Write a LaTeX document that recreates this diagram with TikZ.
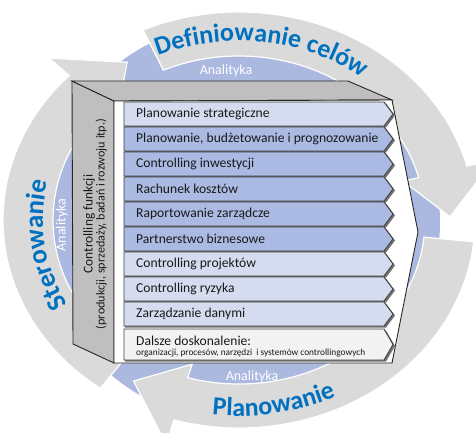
\documentclass[tikz,border=0pt]{standalone}
\usepackage{fontspec}
\setmainfont{Carlito}
\usetikzlibrary{calc,decorations.text}
\definecolor{ringgray}{RGB}{218,218,218}
\definecolor{bluedisk}{RGB}{171,185,225}
\definecolor{rowdark}{RGB}{171,186,227}
\definecolor{rowlight}{RGB}{214,220,240}
\definecolor{rowgray}{RGB}{242,242,242}
\definecolor{boxgray}{RGB}{191,191,191}
\definecolor{titleblue}{RGB}{0,112,192}
\newcommand\bigtitle{\fontsize{26}{26}\selectfont\bfseries\color{titleblue}}
\newcommand\sidetitle{\fontsize{27}{27}\selectfont\bfseries\color{titleblue}}
\newcommand\ringarrow[3]{%
  \filldraw[arrowband] ($(C)+(#1:236pt and 208pt)$)
    arc[start angle=#1, end angle=#2, x radius=236pt, y radius=208pt]
    -- ($(C)+(#2:264pt and 233pt)$)
    -- ($(C)+(#3:211pt and 186pt)$)
    -- ($(C)+(#2:170pt and 150pt)$)
    -- ($(C)+(#2:186pt and 164pt)$)
    arc[start angle=#2, end angle=#1, x radius=186pt, y radius=164pt]
    -- cycle;}
\begin{document}
\begin{tikzpicture}[x=1pt,y=1pt,
  rowbox/.style={draw=black!75, line width=0.9pt, line join=miter},
  rowshadow/.style={fill=black!55},
  rowtext/.style={font=\fontsize{13.6}{15}\selectfont, inner sep=0pt, anchor=west, text=black!90},
  anal/.style={font=\fontsize{14}{16}\selectfont, text=white, inner sep=0pt},
  arrowband/.style={fill=ringgray, draw=white, line width=1.2pt},
  facestyle/.style={fill=boxgray, draw=black!85, line width=0.9pt, line join=miter}
]
\clip (0,0) rectangle (476,-432);
\coordinate (C) at (239,-220);
% blue disk
\fill[bluedisk] (240,-222) circle[radius=200];
% ring arrows
\ringarrow{114}{15}{1}
\ringarrow{-6}{-106}{-120}
\ringarrow{234}{136}{122}
% curved titles
\path[decorate,decoration={text along path,text align=center,
  text={|\bigtitle|Definiowanie celów}}]
  ($(C)+(152.5:203pt and 179pt)$) arc[start angle=152.5,end angle=12.5,x radius=203pt,y radius=179pt];
\path[decorate,decoration={text along path,text align=center,
  text={|\sidetitle|Sterowanie}}]
  ($(C)+(232.7:196pt and 173pt)$) arc[start angle=232.7,end angle=142.7,x radius=196pt,y radius=173pt];
\path[decorate,decoration={text along path,text align=center,
  text={|\bigtitle|Planowanie}}]
  ($(C)+(-126:222pt and 196pt)$) arc[start angle=-126,end angle=-34,x radius=222pt,y radius=196pt];
% Analityka labels
\node[anal] (antop) at (226,-71) {Analityka};
\node[anal, rotate=90] (anleft) at (62,-225) {Analityka};
\node[anal] (anbot) at (252,-377) {Analityka};
% box: left face, top face, front face
\filldraw[facestyle] (72,-81) -- (114,-101) -- (114,-363) -- (73,-344) -- cycle;
\filldraw[facestyle] (72,-81) -- (348,-81) -- (392,-100) -- (114,-101) -- cycle;
\filldraw[fill=white, draw=black!85, line width=0.9pt, line join=miter]
  (114,-101) -- (392,-100) -- (418,-232) -- (392,-363) -- (114,-363) -- cycle;
% left face text
\node[rotate=90, align=center, inner sep=0pt, text=black!90] (lefttext) at (95,-224)
  {\fontsize{13.4}{16}\selectfont Controlling funkcji\\
   \fontsize{12.2}{16}\selectfont (produkcji, sprzedaży, badań i rozwoju itp.)};
% rows
\foreach \i/\c/\t in {0/rowlight/{Planowanie strategiczne},
  1/rowdark/{Planowanie, budżetowanie i prognozowanie},
  2/rowdark/{Controlling inwestycji},
  3/rowdark/{Rachunek kosztów},
  4/rowdark/{Raportowanie zarządcze},
  5/rowdark/{Partnerstwo biznesowe},
  6/rowlight/{Controlling projektów},
  7/rowlight/{Controlling ryzyka},
  8/rowlight/{Zarządzanie danymi}}{
  \pgfmathsetmacro\yt{-(102+25*\i)}
  \pgfmathsetmacro\yb{\yt-24}
  \pgfmathsetmacro\ym{\yt-12}
  \fill[rowshadow] (125,\yt-1.5) -- (386,\yt-1.5) -- (395,\ym-1.5) -- (386,\yb-1.5) -- (125,\yb-1.5) -- cycle;
  \filldraw[rowbox, fill=\c] (124,\yt) -- (384,\yt) -- (393,\ym) -- (384,\yb) -- (124,\yb) -- cycle;
  \node[rowtext] (row\i) at (136,\ym) {\t};
}
% last row
\fill[rowshadow] (125,-330.5) -- (386,-330.5) -- (395,-346) -- (386,-361.5) -- (125,-361.5) -- cycle;
\filldraw[rowbox, fill=rowgray] (124,-329) -- (384,-329) -- (393,-344.5) -- (384,-360) -- (124,-360) -- cycle;
\node[rowtext, anchor=base west] (row9a) at (136,-345) {Dalsze doskonalenie:};
\node[rowtext, anchor=base west, font=\fontsize{9.3}{10}\selectfont] (row9b) at (136,-355.5)
  {organizacji, procesów, narzędzi\ \ i systemów controllingowych};
\end{tikzpicture}
\end{document}
